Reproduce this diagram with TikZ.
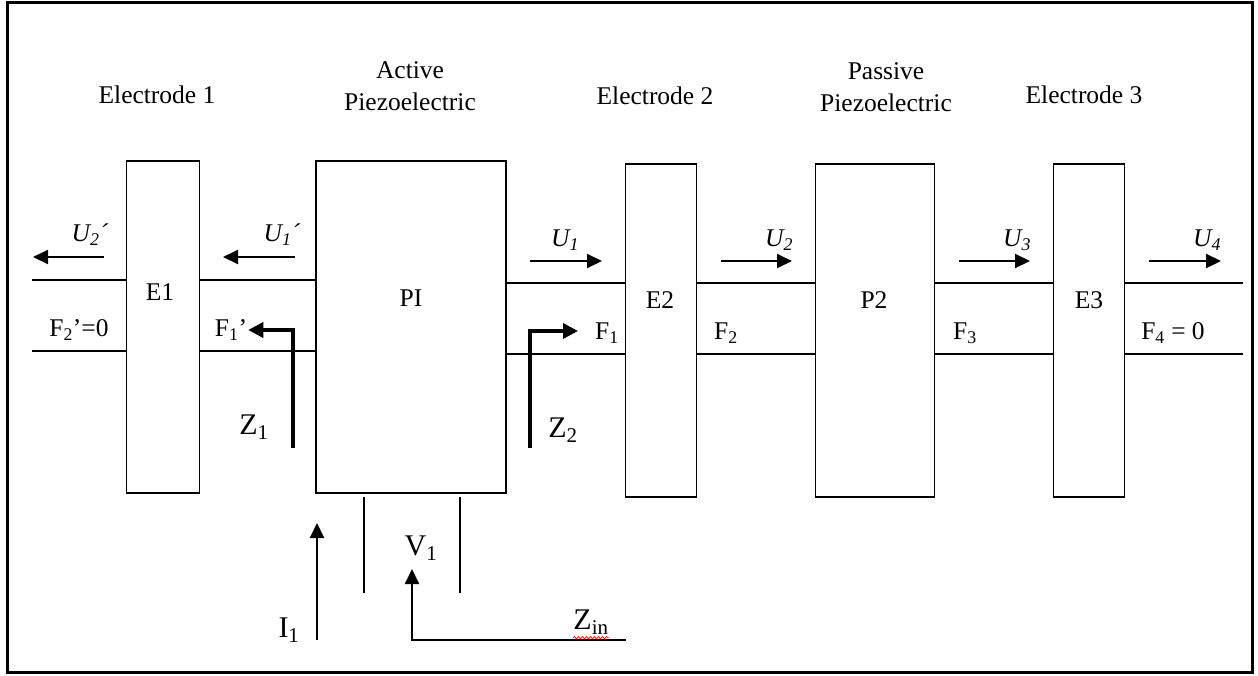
\documentclass[tikz,border=0pt]{standalone}
\usepackage{fontspec}
\setmainfont{Liberation Serif}
\usetikzlibrary{arrows.meta, decorations.pathmorphing}
\tikzset{
  blk/.style = {draw, line width=1.3pt, inner sep=0pt},
  lbl/.style = {inner sep=0pt, align=center, font=\fontsize{25.5}{32}\selectfont},
  big/.style = {inner sep=0pt, font=\fontsize{30}{32}\selectfont},
  ln/.style  = {line width=1.3pt},
  fl/.style  = {-{Triangle[length=15pt,width=14pt]}, line width=2pt},
  fz/.style  = {-{Triangle[length=15pt,width=15pt]}, line width=3.6pt},
}
\begin{document}
\begin{tikzpicture}[x=1pt, y=-1pt]
  \useasboundingbox (0,0) rectangle (1258,675);
  \draw[line width=3pt] (7,2) rectangle (1252,672);

  % blocks
  \node[blk, minimum width=73pt,  minimum height=332pt] (e1) at (163,327)   {};
  \node[blk, minimum width=190pt, minimum height=332pt] (pi) at (411,327)   {};
  \node[blk, minimum width=71pt,  minimum height=333pt] (e2) at (661,330.5) {};
  \node[blk, minimum width=119pt, minimum height=333pt] (p2) at (875,330.5) {};
  \node[blk, minimum width=71pt,  minimum height=333pt] (e3) at (1089,330.5) {};
  \node[lbl] (e1t) at (160,292) {E1};
  \node[lbl] (pit) at (411,298) {PI};
  \node[lbl] (e2t) at (660,300) {E2};
  \node[lbl] (p2t) at (874,300) {P2};
  \node[lbl] (e3t) at (1089,300) {E3};

  % titles
  \node[lbl] (ttl1) at (157,95)  {Electrode 1};
  \node[lbl] (ttl2) at (410,86)  {Active\\Piezoelectric};
  \node[lbl] (ttl3) at (655,96)  {Electrode 2};
  \node[lbl] (ttl4) at (886,87)  {Passive\\Piezoelectric};
  \node[lbl] (ttl5) at (1084,95) {Electrode 3};

  % line pairs
  \coordinate (lt) at (32,280);   \coordinate (lb) at (32,351);
  \coordinate (rt) at (1243,283); \coordinate (rb) at (1243,354);
  \draw[ln] (lt) -- (e1.west |- lt);  \draw[ln] (lb) -- (e1.west |- lb);
  \draw[ln] (e1.east |- lt) -- (pi.west |- lt);
  \draw[ln] (e1.east |- lb) -- (pi.west |- lb);
  \foreach \a/\b in {pi/e2, e2/p2, p2/e3} {
    \draw[ln] (\a.east |- rt) -- (\b.west |- rt);
    \draw[ln] (\a.east |- rb) -- (\b.west |- rb);
  }
  \draw[ln] (e3.east |- rt) -- (rt);  \draw[ln] (e3.east |- rb) -- (rb);

  % velocities
  \foreach \n/\xa/\xb/\y/\lx/\ly/\t in {
      a/104/33/257/90/235/{\textit{U\textsubscript{2}´}},
      b/295/223/257/282/235/{\textit{U\textsubscript{1}´}},
      c/530/602/261/565/240/{\textit{U\textsubscript{1}}},
      d/721/792/261/779/240/{\textit{U\textsubscript{2}}},
      e/959/1030/261/1017/240/{\textit{U\textsubscript{3}}},
      f/1149/1221/261/1207/240/{\textit{U\textsubscript{4}}}} {
    \coordinate (u\n s) at (\xa,\y);
    \coordinate (u\n e) at (\xb,\y);
    \draw[fl] (u\n s) -- (u\n e);
    \node[lbl] (u\n) at (\lx,\ly) {\t};
  }

  % forces
  \node[lbl] (f2p) at (79,330)   {F\textsubscript{2}’=0};
  \node[lbl] (f1p) at (231,330)  {F\textsubscript{1}’};
  \node[lbl] (f1)  at (607,333)  {F\textsubscript{1}};
  \node[lbl] (f2)  at (726,333)  {F\textsubscript{2}};
  \node[lbl] (f3)  at (965,333)  {F\textsubscript{3}};
  \node[lbl] (f4)  at (1173,333) {F\textsubscript{4} = 0};

  % impedances
  \coordinate (z1s) at (293,448);
  \coordinate (z2s) at (530,448);
  \coordinate (z2e) at (578,331);
  \draw[fz] (z1s) |- ([xshift=1pt]f1p.east);
  \draw[fz] (z2s) |- (z2e);
  \node[big] (z1) at (254,427) {Z\textsubscript{1}};
  \node[big] (z2) at (563,430) {Z\textsubscript{2}};

  % electrical port
  \coordinate (va) at (364,593);
  \coordinate (vb) at (460,593);
  \draw[ln] ([yshift=-3pt]pi.south -| va) -- (va);
  \draw[ln] ([yshift=-3pt]pi.south -| vb) -- (vb);
  \coordinate (i1s) at (317,640);
  \coordinate (i1e) at (317,523);
  \draw[fl] (i1s) -- (i1e);
  \node[big] (i1) at (289,630) {I\textsubscript{1}};
  \coordinate (zin) at (626,640);
  \coordinate (v1e) at (412,569);
  \draw[fl] (zin) -| (v1e);
  \node[big] (v1) at (421,548) {V\textsubscript{1}};
  \node[big] (zint) at (591,622) {Z\textsubscript{in}};
  \draw[red, line width=0.7pt, decorate,
        decoration={snake, amplitude=1.2pt, segment length=4pt}]
        ([yshift=-3pt]zint.south west) -- ([yshift=-3pt]zint.south east);
\end{tikzpicture}
\end{document}
